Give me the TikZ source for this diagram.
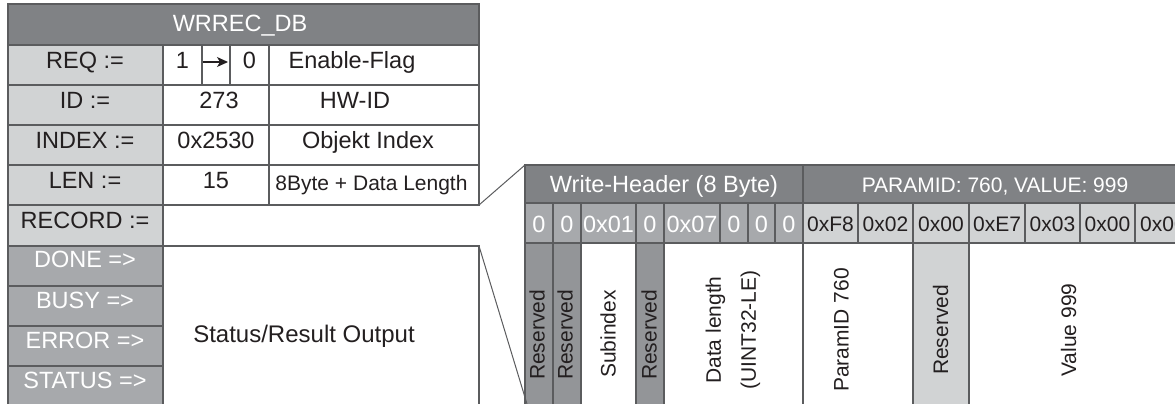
\documentclass[tikz,border=0pt]{standalone}
\usepackage{fontspec}
\setmainfont{Liberation Sans}
\usetikzlibrary{arrows.meta}
\definecolor{hdr}{HTML}{808285}
\definecolor{lgray}{HTML}{D1D3D4}
\definecolor{mgray}{HTML}{A7A9AC}
\definecolor{dgray}{HTML}{939598}
\definecolor{linec}{HTML}{5B5C5E}
\definecolor{txt}{HTML}{231F20}
\begin{document}
\begin{tikzpicture}[x=1pt,y=-1pt,
  box/.style={draw=linec, line width=1.5pt},
  big/.style={font=\fontsize{23.5}{24}\selectfont, text=txt, anchor=base, inner sep=0pt},
  bigw/.style={big, text=white},
  small/.style={font=\fontsize{21}{22}\selectfont, text=txt, anchor=base, inner sep=0pt},
  smallw/.style={small, text=white},
  vert/.style={font=\fontsize{21}{35}\selectfont, text=txt, rotate=90, inner sep=0pt, anchor=center, align=center},
  conn/.style={draw=linec, line width=1pt},
  flagarrow/.style={draw=txt, line width=1.1pt, -{Stealth[length=11pt,width=10pt,inset=3pt]}}
]
\useasboundingbox (0,0) rectangle (1175,404);
\clip (0,0) rectangle (1175,404);

% ---------- left table: fills ----------
\fill[hdr] (8,4) rectangle (479,45);
\fill[lgray] (8,45) rectangle (163,246);
\fill[mgray] (8,246) rectangle (163,412);

% ---------- left table: borders ----------
\draw[box] (8,4) rectangle (479,45);
\foreach \t/\b in {45/85,85/125,125/165,165/205,205/246,246/286,286/326,326/366,366/412}
  \draw[box] (8,\t) rectangle (163,\b);
% REQ row
\draw[box] (163,45) rectangle (202,85);
\draw[box] (202,45) rectangle (230,85);
\draw[box] (230,45) rectangle (269,85);
\draw[box] (269,45) rectangle (479,85);
% ID, INDEX, LEN rows
\foreach \t/\b in {85/125,125/165,165/205}{
  \draw[box] (163,\t) rectangle (269,\b);
  \draw[box] (269,\t) rectangle (479,\b);
}
% status box
\draw[box] (163,246) -- (479,246) -- (479,412);

% ---------- right diagram: fills ----------
\fill[hdr] (525,165) rectangle (1192,203);
\fill[mgray] (525,203) rectangle (803,243);
\fill[lgray] (803,203) rectangle (1192,243);
\fill[dgray] (525,243) rectangle (581,412);
\fill[dgray] (636,243) rectangle (664,412);
\fill[lgray] (913,243) rectangle (969,412);

% ---------- right diagram: borders ----------
\draw[box] (525,165) rectangle (803,203);
\draw[box] (803,165) rectangle (1192,203);
\foreach \l/\r in {525/553,553/581,581/636,636/664,664/720,720/748,748/775,775/803,
                   803/858,858/913,913/969,969/1025,1025/1080,1080/1135,1135/1192}
  \draw[box] (\l,203) rectangle (\r,243);
\foreach \x in {525,553,581,636,664,803,913,969}
  \draw[box] (\x,243) -- (\x,412);

% ---------- left table: texts ----------
\node[bigw] (title) at (240,32) {WRREC\_DB};
\node[big] (lreq) at (85,68) {REQ :=};
\node[big] (lid) at (85,108) {ID :=};
\node[big] (lindex) at (85,148) {INDEX :=};
\node[big] (llen) at (85,188) {LEN :=};
\node[big] (lrec) at (85,228) {RECORD :=};
\node[bigw] (ldone) at (85,267) {DONE =>};
\node[bigw] (lbusy) at (85,308) {BUSY =>};
\node[bigw] (lerr) at (85,348) {ERROR =>};
\node[bigw] (lstat) at (85,388) {STATUS =>};

\node[big] (vone) at (182.5,68) {1};
\node[big] (vzero) at (249.5,68) {0};
\node[big] (venable) at (352,68) {Enable-Flag};
\node[big] (vid) at (219,108) {273};
\node[big] (vhwid) at (355,108) {HW-ID};
\node[big] (vindex) at (216,148) {0x2530};
\node[big] (vobj) at (368,148) {Objekt Index};
\node[big] (vlen) at (216,188) {15};
\node[small] (vlendesc) at (371.5,190) {8Byte + Data Length};
\node[big, font=\fontsize{24}{25}\selectfont] (status) at (304,342) {Status/Result Output};

\coordinate (arrS) at (203,62);
\coordinate (arrE) at (228,62);
\draw[flagarrow] (arrS) -- (arrE);

% ---------- right diagram: texts ----------
\node[bigw] (whdr) at (664,192) {Write-Header (8 Byte)};
\node[smallw] (phdr) at (995,192) {PARAMID: 760, VALUE: 999};
\foreach \x/\v [count=\i] in {539/0,567/0,608.5/0x01,650/0,692/0x07,734/0,761.5/0,789/0}
  \node[bigw] (wb\i) at (\x,232) {\v};
\foreach \x/\v [count=\i] in {830.5/0xF8,885.5/0x02,941/0x00,997/0xE7,1052.5/0x03,1107.5/0x00,1163/0x00}
  \node[small] (pb\i) at (\x,231) {\v};

\node[vert] (res1) at (537,335) {Reserved};
\node[vert] (res2) at (565,335) {Reserved};
\node[vert] (subidx) at (608,334) {Subindex};
\node[vert] (res3) at (649,335) {Reserved};
\node[vert] (dlen) at (733,330) {Data length\\(UINT32-LE)};
\node[vert] (pid) at (841.5,330) {ParamID 760};
\node[vert] (res4) at (940.5,330) {Reserved};
\node[vert] (val) at (1068.5,330) {Value 999};

% ---------- connectors ----------
\coordinate (lenBR) at (479,205);
\coordinate (whTL) at (525,165);
\coordinate (stTR) at (479,246);
\coordinate (whBL) at (527,404);
\draw[conn] (lenBR) -- (whTL);
\draw[conn] (stTR) -- (whBL);
\end{tikzpicture}
\end{document}
